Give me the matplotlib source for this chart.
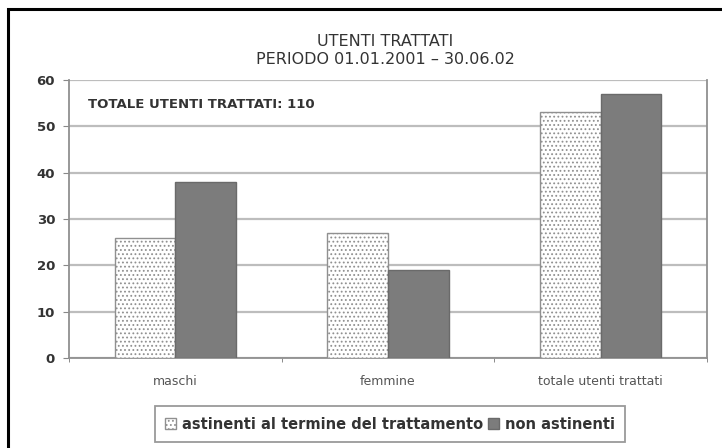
import matplotlib
matplotlib.use("Agg")
import matplotlib.pyplot as plt
from matplotlib.patches import Rectangle
import numpy as np

# Data
categories = ["maschi", "femmine", "totale utenti trattati"]
astinenti = [26, 27, 53]
non_astinenti = [38, 19, 57]
series_names = ["astinenti al termine del trattamento", "non astinenti"]
y_ticks = [0, 10, 20, 30, 40, 50, 60]

plt.rcParams["font.family"] = ["DejaVu Sans"]
plt.rcParams["hatch.color"] = "#b5b5b5"
plt.rcParams["hatch.linewidth"] = 0.8

fig = plt.figure(figsize=(7.22, 4.48), dpi=100)
ax = fig.add_axes([69 / 722, 1 - 358 / 448, 638 / 722, 278 / 448])

# outer frame (only left and top visible in the reference)
fig.patches.append(Rectangle((8 / 722, -0.05), 1.2, 1 - 9 / 448 + 0.05,
                             transform=fig.transFigure, fill=False,
                             edgecolor="black", linewidth=2.2))

x = np.arange(len(categories))
w = 0.286
ax.bar(x - w / 2, astinenti, w, color="white", edgecolor="#909090",
       linewidth=1.0, hatch="....", label=series_names[0], zorder=3)
ax.bar(x + w / 2, non_astinenti, w, color="#7c7c7c", edgecolor="#6a6a6a",
       linewidth=1.0, label=series_names[1], zorder=3)

ax.set_xlim(-0.5, len(categories) - 0.5)
ax.set_ylim(0, 60)
ax.set_yticks(y_ticks)
ax.yaxis.grid(True, color="#bdbdbd", linewidth=1.6, zorder=0)
ax.set_axisbelow(True)
ax.set_xticks(x)
ax.set_xticklabels(categories, fontsize=9, color="#555555")
ax.set_xticks([-0.5, 0.5, 1.5, 2.5], minor=True)
ax.tick_params(axis="x", which="major", length=0, pad=12)
ax.tick_params(axis="x", which="minor", length=3, color="#777777", direction="out")
ax.tick_params(axis="y", length=4, color="#888888", labelsize=9.5, pad=6)
for lbl in ax.get_yticklabels():
    lbl.set_fontweight("bold")
    lbl.set_color("#333333")

for s in ["left", "right", "bottom"]:
    ax.spines[s].set_color("#909090")
    ax.spines[s].set_linewidth(1.3)
ax.spines["top"].set_visible(False)

fig.text(385 / 722, 1 - 42 / 448, "UTENTI TRATTATI", ha="center", va="center",
         fontsize=11.5, color="#333333")
fig.text(385 / 722, 1 - 59 / 448, "PERIODO 01.01.2001 \u2013 30.06.02", ha="center",
         va="center", fontsize=11.5, color="#333333")
fig.text(88 / 722, 1 - 104 / 448, "TOTALE UTENTI TRATTATI: 110", ha="left",
         va="center", fontsize=9.5, fontweight="bold", color="#333333")

leg = fig.legend(loc="center", bbox_to_anchor=(390 / 722, 1 - 424 / 448), ncol=2,
                 prop={"size": 10.5, "weight": "bold"}, frameon=True, fancybox=False,
                 handlelength=0.7, handleheight=0.7, handletextpad=0.4,
                 columnspacing=0.4, borderpad=0.7)
leg.get_frame().set_edgecolor("#808080")
leg.get_frame().set_linewidth(1.3)
for t in leg.get_texts():
    t.set_color("#333333")

fig.savefig("out.png", dpi=100)
